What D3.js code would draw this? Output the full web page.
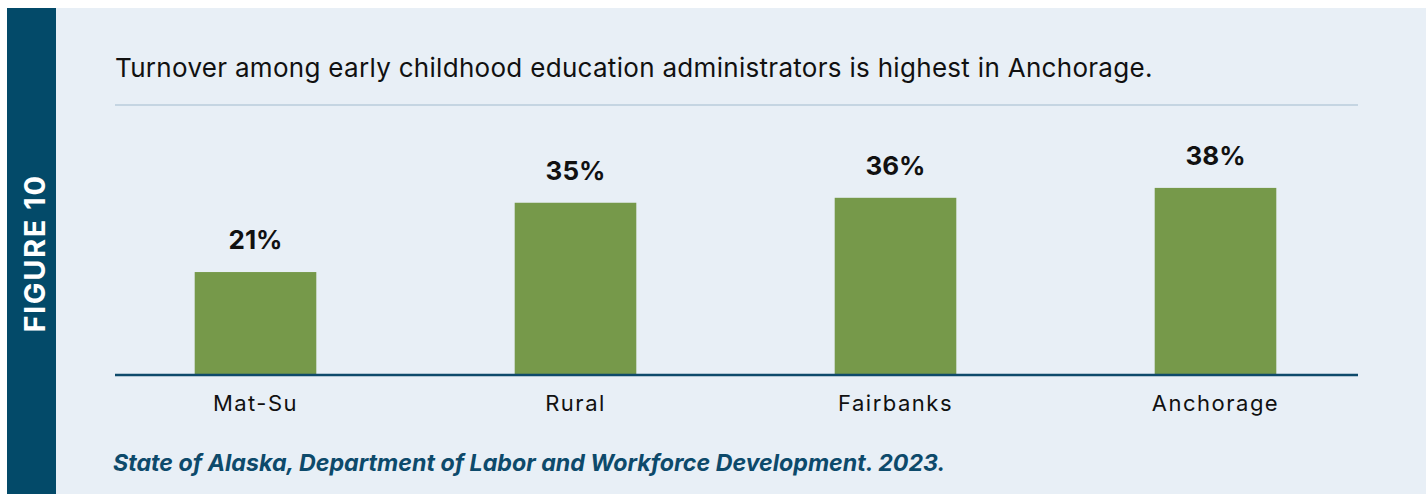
<!DOCTYPE html>
<html>
<head>
<meta charset="utf-8">
<script src="https://cdn.jsdelivr.net/npm/d3@7"></script>
<style>
html,body{margin:0;padding:0;background:#ffffff;}
svg{display:block;}
</style>
</head>
<body>
<svg id="chart" width="1426" height="494"></svg>
<script>
const categories = ["Mat-Su", "Rural", "Fairbanks", "Anchorage"];
const values = [21, 35, 36, 38];
const valueLabels = ["21%", "35%", "36%", "38%"];
const titleText = "Turnover among early childhood education administrators is highest in Anchorage.";
const sourceText = "State of Alaska, Department of Labor and Workforce Development. 2023.";
const figureLabel = "FIGURE 10";

const svg = d3.select("#chart");
const W = 1426, H = 494;

svg.append("rect").attr("x", 0).attr("y", 0).attr("width", W).attr("height", H).attr("fill", "#ffffff");
svg.append("rect").attr("x", 56).attr("y", 8).attr("width", W - 56).attr("height", H - 8).attr("fill", "#e8eff6");
svg.append("rect").attr("x", 7).attr("y", 8).attr("width", 49).attr("height", H - 8).attr("fill", "#034a69");

svg.append("text")
  .attr("transform", "translate(44.5,253.5) rotate(-90)")
  .attr("text-anchor", "middle")
  .attr("font-family", "Inter, 'Noto Sans', sans-serif")
  .attr("font-weight", 700)
  .attr("font-size", 29)
  .attr("letter-spacing", 1.6)
  .attr("fill", "#ffffff")
  .text(figureLabel);

svg.append("text")
  .attr("x", 115).attr("y", 77)
  .attr("font-family", "Inter, 'Noto Sans', sans-serif")
  .attr("font-size", 26)
  .attr("letter-spacing", 0.3)
  .attr("fill", "#111111")
  .text(titleText);

svg.append("line")
  .attr("x1", 115).attr("x2", 1358).attr("y1", 105).attr("y2", 105)
  .attr("stroke", "#c5d5e2").attr("stroke-width", 2);

const x = d3.scaleBand().domain(categories).range([95.5, 1375.5]).paddingInner(0.62).paddingOuter(0.31);
const y = d3.scaleLinear().domain([0, 40]).range([376, 178]);

const data = categories.map((c, i) => ({c, v: values[i], l: valueLabels[i]}));

svg.append("g").selectAll("rect").data(data).join("rect")
  .attr("x", d => x(d.c))
  .attr("y", d => y(d.v))
  .attr("width", x.bandwidth())
  .attr("height", d => y(0) - y(d.v))
  .attr("fill", "#76994a");

svg.append("g").selectAll("text").data(data).join("text")
  .attr("x", d => x(d.c) + x.bandwidth() / 2)
  .attr("y", d => y(d.v) - 23)
  .attr("text-anchor", "middle")
  .attr("font-family", "Inter, 'Noto Sans', sans-serif")
  .attr("font-weight", 700)
  .attr("font-size", 26)
  .attr("fill", "#111111")
  .text(d => d.l);

const axis = d3.axisBottom(x).tickSize(0).tickPadding(0);
const gx = svg.append("g").attr("transform", "translate(0,375)").call(axis);
gx.select(".domain").remove();
gx.selectAll("text")
  .attr("dy", null)
  .attr("y", 36)
  .attr("font-family", "Inter, 'Noto Sans', sans-serif")
  .attr("font-size", 22)
  .attr("letter-spacing", 1.5)
  .attr("fill", "#111111");

svg.append("line")
  .attr("x1", 115).attr("x2", 1358).attr("y1", 375).attr("y2", 375)
  .attr("stroke", "#0e4a6b").attr("stroke-width", 2.5);

svg.append("text")
  .attr("x", 113).attr("y", 471)
  .attr("font-family", "Inter, 'Noto Sans', sans-serif")
  .attr("font-weight", 700)
  .attr("font-style", "italic")
  .attr("font-size", 23.2)
  .attr("fill", "#0d4a6b")
  .text(sourceText);
</script>
</body>
</html>
